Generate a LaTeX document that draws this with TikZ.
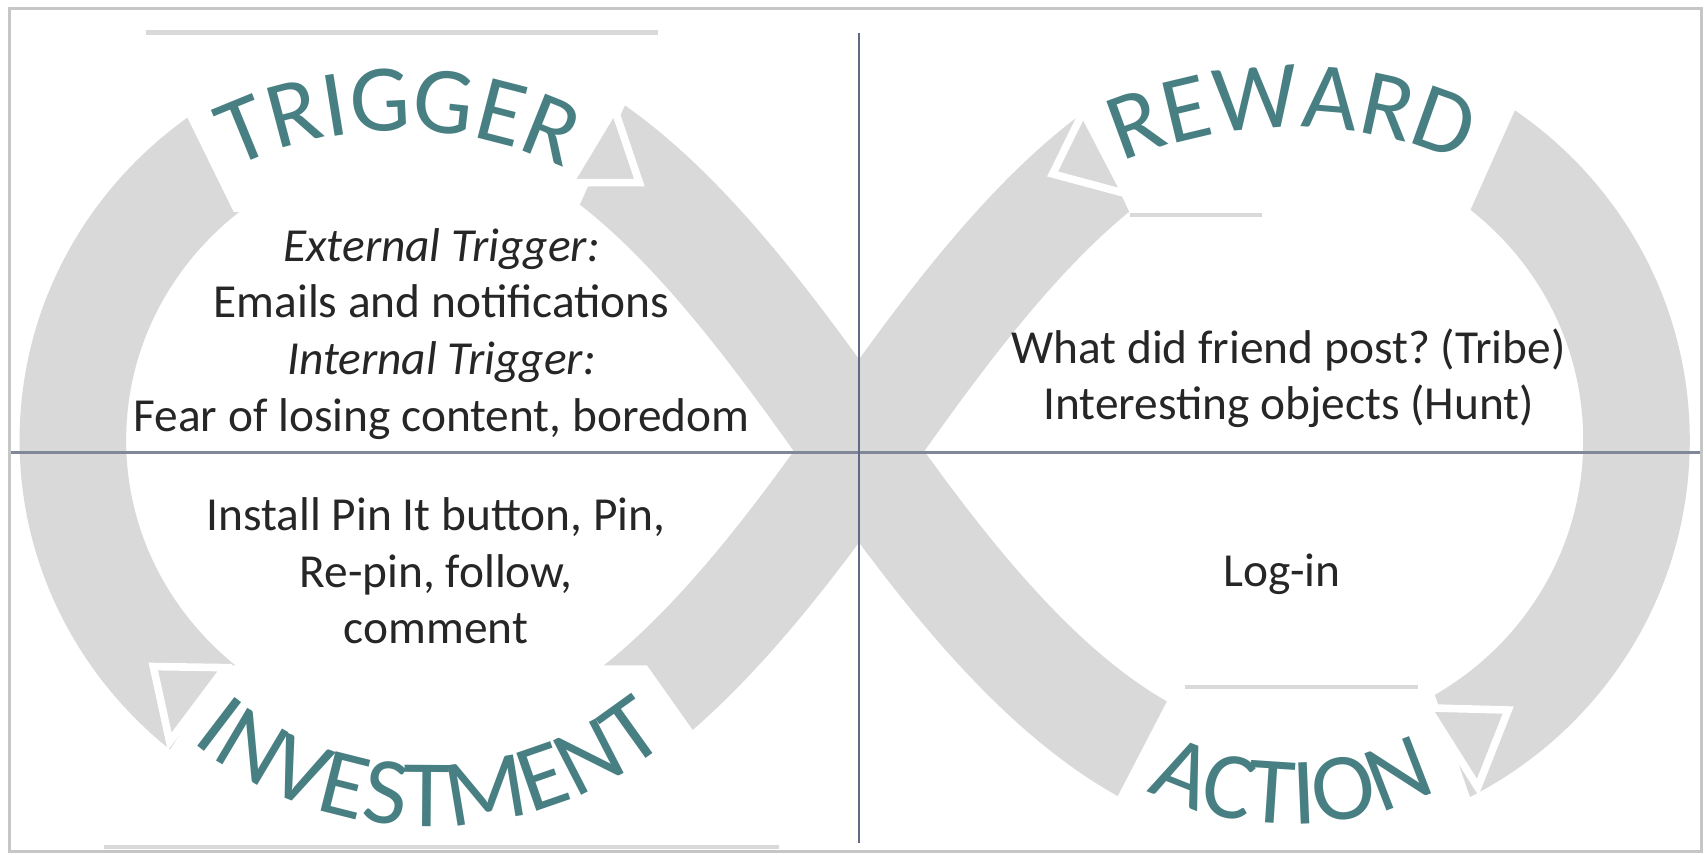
\documentclass[tikz,border=0pt]{standalone}
\usepackage{fontspec}
\setmainfont{Carlito}
\definecolor{bandgray}{RGB}{217,217,217}
\definecolor{phaseteal}{RGB}{72,127,130}
\definecolor{gridline}{RGB}{128,136,152}
\definecolor{splitline}{RGB}{96,106,136}
\frenchspacing

\begin{document}
\begin{tikzpicture}
                \tikzstyle{band}=[draw=bandgray,line width=0.98cm]
                \tikzstyle{cover}=[fill=white,draw=none]
                \tikzstyle{headpiece}=[fill=bandgray,draw=white,line width=0.07cm,line join=miter]
                \tikzstyle{rim}=[draw=gray!30,line width=0.04cm]
                \tikzstyle{bodytext}=[align=center,font=\fontsize{12.4}{14.8}\selectfont,text=black!85]
                \tikzstyle{phaseletter}=[inner sep=0pt,anchor=base,text=phaseteal,font=\fontsize{25}{30}\selectfont]
                \newcommand\phaseletters[5]{\foreach \ltr/\ang [count=\i] in {#5}
                    \path (#1) ++(\ang:#2) node[phaseletter,rotate=\ang#3] (#4-\i) {\ltr};}
                \fill[white] (0,0) rectangle (15.68,7.86);
                \useasboundingbox (0,0) rectangle (15.68,7.86);
                \coordinate (C) at (7.90,3.71);
                \coordinate (T) at (4.00,7.01);
                \coordinate (L) at (0.67,3.81);
                \coordinate (B) at (4.00,0.61);
                \coordinate (T') at (11.80,7.01);
                \coordinate (R) at (15.05,3.81);
                \coordinate (B') at (11.80,0.61);
                \draw[band] (C) .. controls (6.75,5.35) and (5.50,7.01) .. (T)
                    .. controls (2.15,7.01) and (0.67,5.58) .. (L)
                    .. controls (0.67,2.04) and (2.16,0.61) .. (B)
                    .. controls (5.50,0.61) and (6.75,2.07) .. (C)
                    .. controls (9.05,5.35) and (10.30,7.01) .. (T')
                    .. controls (13.60,7.01) and (15.05,5.58) .. (R)
                    .. controls (15.05,2.04) and (13.60,0.61) .. (B')
                    .. controls (10.30,0.61) and (9.05,2.07) .. (C) -- cycle;
                \fill[cover] (1.34,7.56) -- (6.05,7.56) -- (5.30,5.91) -- (2.15,5.91) -- cycle;
                \fill[cover] (9.62,7.56) -- (14.25,7.56) -- (13.50,5.88) -- (10.40,5.88) -- cycle;
                \fill[cover] (10.80,1.54) -- (13.17,1.54) -- (13.70,0) -- (10.00,0) -- cycle;
                \fill[cover] (2.05,1.74) -- (5.95,1.74) -- (7.18,0) -- (0.96,0) -- cycle;
                \draw[rim] (1.34,7.56) -- (6.05,7.56);
                \draw[rim] (10.39,5.88) -- (11.61,5.88);
                \draw[rim] (10.90,1.54) -- (13.04,1.54);
                \draw[rim] (0.96,0.07) -- (7.16,0.07);
                \filldraw[headpiece] (5.65,6.86) -- (5.24,6.18) -- (5.88,6.18) -- cycle;
                \filldraw[headpiece] (9.96,6.83) -- (9.68,6.26) -- (10.35,6.08) -- cycle;
                \filldraw[headpiece] (1.41,1.73) -- (2.07,1.72) -- (1.56,1.04) -- cycle;
                \filldraw[headpiece] (13.13,1.35) -- (13.87,1.33) -- (13.59,0.62) -- cycle;
                \draw[gridline,line width=0.028cm] (0.09,3.70) -- (15.65,3.70);
                \draw[splitline,line width=0.014cm] (7.90,7.56) -- (7.90,0.11);
                \draw[gray!45,line width=0.03cm] (0.09,0.03) rectangle (15.65,7.78);
                \node[bodytext] (trigger) at (4.06,4.79) {\textit{External Trigger:}\\Emails and notifications\\\textit{Internal Trigger:}\\Fear of losing content, boredom};
                \node[bodytext] (reward) at (11.85,4.38) {What did friend post? (Tribe)\\Interesting objects (Hunt)};
                \node[bodytext] (investment) at (4.01,2.61) {Install Pin It button, Pin,\\Re-pin, follow,\\comment};
                \node[bodytext] (action) at (11.79,2.58) {Log-in};
                \phaseletters{3.67,3.16}{3.50}{-90}{triggerword}{T/112.2,R/104.8,I/99.1,G/92.7,G/83.7,E/75.6,R/68.2}
                \phaseletters{11.88,2.79}{3.90}{-90}{rewardword}{R/110.1,E/103.4,W/94.6,A/85.1,R/77.8,D/70.4}
                \phaseletters{3.95,3.73}{3.47}{+90}{investmentword}{I/232.7,N/239.3,V/248.1,E/255.9,S/262.8,T/269.6,M/279.4,E/289.1,N/297.3,T/305.6}
                \phaseletters{11.88,3.28}{3.00}{+90}{actionword}{A/248.4,C/257.7,T/266.2,I/272.4,O/280.1,N/291.1}
            \end{tikzpicture}
\end{document}
